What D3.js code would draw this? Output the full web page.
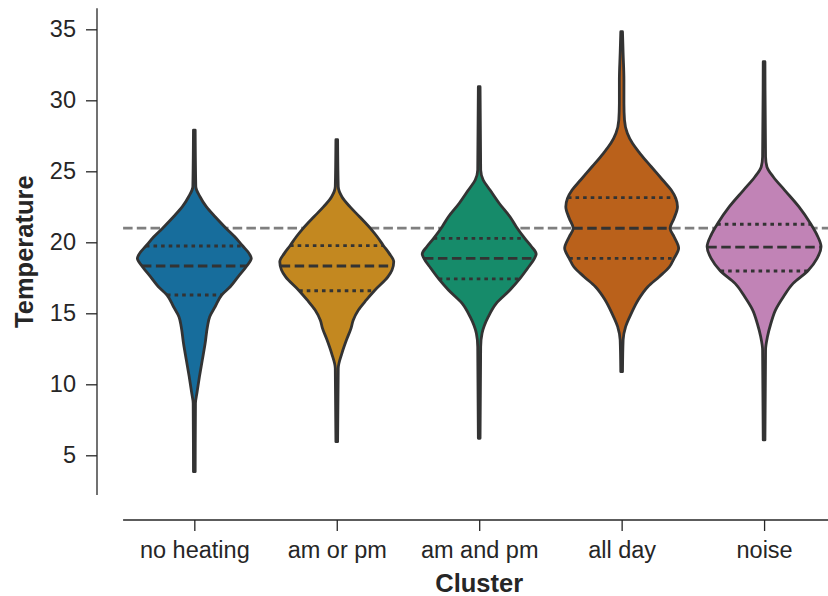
<!DOCTYPE html>
<html>
<head>
<meta charset="utf-8">
<script src="https://cdn.jsdelivr.net/npm/d3@7"></script>
<style>
  html, body { margin: 0; padding: 0; background: #fff; }
  svg { display: block; font-family: "Liberation Sans", Arial, Helvetica, sans-serif; }
</style>
</head>
<body>
<svg id="chart" width="828" height="596"></svg>
<script>
// Clusters along the x axis
const categories = ["no heating", "am or pm", "am and pm", "all day", "noise"];

// Kernel density profiles per cluster: temperature grid and relative density (peak = 1)
const noHeatingTemp = [3.85, 8.66, 9.37, 10.54, 11.71, 12.89, 14.06, 14.76, 15.46, 16.29, 16.87, 17.58, 18.33, 18.87, 19.22, 19.74, 20.39, 20.98, 21.8, 22.51, 23.21, 23.92, 27.9];
const noHeatingDens = [0.015, 0.02, 0.045, 0.09, 0.14, 0.19, 0.23, 0.27, 0.365, 0.48, 0.63, 0.77, 0.92, 1.0, 0.96, 0.85, 0.71, 0.56, 0.365, 0.21, 0.10, 0.026, 0.015];

const amOrPmTemp = [5.96, 11.13, 12.18, 13.12, 13.94, 14.53, 15.23, 15.94, 16.59, 17.58, 18.05, 18.63, 19.22, 19.76, 20.39, 20.98, 21.8, 22.51, 23.21, 23.92, 27.23];
const amOrPmDens = [0.015, 0.026, 0.09, 0.17, 0.25, 0.29, 0.38, 0.52, 0.66, 0.90, 0.97, 1.0, 0.92, 0.82, 0.71, 0.59, 0.40, 0.23, 0.09, 0.026, 0.015];

const amAndPmTemp = [6.2, 12.65, 13.59, 14.76, 15.7, 16.64, 17.42, 18.17, 18.87, 19.18, 19.69, 20.28, 21.1, 21.8, 22.75, 23.68, 24.39, 25.09, 30.96];
const amAndPmDens = [0.015, 0.026, 0.05, 0.16, 0.30, 0.54, 0.71, 0.85, 0.97, 1.0, 0.92, 0.80, 0.65, 0.54, 0.35, 0.19, 0.07, 0.026, 0.015];

const allDayTemp = [10.89, 13.12, 14.06, 15.0, 15.94, 16.87, 17.58, 18.28, 18.87, 19.58, 20.39, 20.99, 21.69, 22.51, 23.1, 23.68, 24.39, 25.32, 26.27, 26.97, 27.68, 28.61, 29.79, 31.43, 33.31, 34.83];
const allDayDens = [0.015, 0.026, 0.07, 0.17, 0.29, 0.46, 0.66, 0.84, 0.92, 1.0, 0.92, 0.85, 0.92, 0.98, 0.95, 0.87, 0.72, 0.52, 0.32, 0.19, 0.10, 0.05, 0.04, 0.04, 0.026, 0.015];

const noiseTemp = [6.08, 12.42, 13.36, 14.3, 15.23, 16.17, 17.11, 18.0, 18.87, 19.69, 20.51, 21.29, 22.51, 23.68, 24.62, 25.32, 26.03, 32.72];
const noiseDens = [0.015, 0.026, 0.06, 0.12, 0.20, 0.34, 0.51, 0.77, 0.93, 1.0, 0.93, 0.82, 0.61, 0.36, 0.16, 0.05, 0.026, 0.015];

// Quartiles per cluster
const q1Values = [16.29, 16.59, 17.42, 18.87, 17.98];
const medianValues = [18.33, 18.33, 18.87, 20.99, 19.66];
const q3Values = [19.74, 19.76, 20.28, 23.15, 21.27];

// Reference temperature
const referenceTemp = 21;

const yTicks = [5, 10, 15, 20, 25, 30, 35];
const colors = ["#176d9c", "#c38820", "#168b6a", "#ba611b", "#c183b6"];

const profiles = [
  [noHeatingTemp, noHeatingDens],
  [amOrPmTemp, amOrPmDens],
  [amAndPmTemp, amAndPmDens],
  [allDayTemp, allDayDens],
  [noiseTemp, noiseDens]
].map(([t, d]) => t.map((v, i) => ({ t: v, d: d[i] })));

const svg = d3.select("#chart");
const ink = "#262626";
const outline = "#333333";

// Axes frame
const plotLeft = 123.1, plotRight = 835.3, plotTop = 8.3, plotBottom = 495;
const yAxisX = 97, xAxisY = 520;

const x = d3.scaleLinear().domain([-0.5, categories.length - 0.5]).range([plotLeft, plotRight]);
const y = d3.scaleLinear().domain([2.204, 36.48]).range([plotBottom, plotTop]);
const halfWidth = 0.4 * (x(1) - x(0));

// Reference line behind the violins
svg.append("line")
  .attr("x1", plotLeft).attr("x2", plotRight)
  .attr("y1", y(referenceTemp)).attr("y2", y(referenceTemp))
  .attr("stroke", "#7f7f7f").attr("stroke-width", 2.8)
  .attr("stroke-dasharray", "9.5,4.2");

// Violins
const g = svg.append("g");
profiles.forEach((prof, i) => {
  const cx = x(i);
  const area = d3.area()
    .y(p => y(p.t))
    .x0(p => cx - p.d * halfWidth)
    .x1(p => cx + p.d * halfWidth)
    .curve(d3.curveMonotoneY);
  g.append("path")
    .datum(prof)
    .attr("d", area)
    .attr("fill", colors[i])
    .attr("stroke", outline)
    .attr("stroke-width", 2.8)
    .attr("stroke-linejoin", "round");

  const widthAt = v => {
    const ts = prof.map(p => p.t);
    const j = Math.max(1, d3.bisectLeft(ts, v));
    const a = prof[j - 1], b = prof[j];
    const f = (v - a.t) / (b.t - a.t);
    return (a.d + f * (b.d - a.d)) * halfWidth;
  };

  const inner = [
    { v: q1Values[i], dash: "3.6,4" },
    { v: medianValues[i], dash: "9.5,4.5" },
    { v: q3Values[i], dash: "3.6,4" }
  ];
  inner.forEach(q => {
    const w = widthAt(q.v);
    g.append("line")
      .attr("x1", cx - w).attr("x2", cx + w)
      .attr("y1", y(q.v)).attr("y2", y(q.v))
      .attr("stroke", outline)
      .attr("stroke-width", 2.8)
      .attr("stroke-dasharray", q.dash);
  });
});

// Y axis
const yAxis = svg.append("g")
  .attr("transform", `translate(${yAxisX},0)`)
  .call(d3.axisLeft(y).tickValues(yTicks).tickSize(11).tickPadding(10).tickSizeOuter(0));
yAxis.select(".domain").attr("d", `M0,${plotTop}V${plotBottom}`);

// X axis
const xAxis = svg.append("g")
  .attr("transform", `translate(0,${xAxisY})`)
  .call(d3.axisBottom(x).tickValues(d3.range(categories.length))
    .tickFormat(i => categories[i]).tickSize(11).tickSizeOuter(0));
xAxis.select(".domain").attr("d", `M${plotLeft},0H${plotRight}`);
xAxis.selectAll(".tick text").attr("y", 37.5).attr("dy", null);

[yAxis, xAxis].forEach(ax => {
  ax.selectAll(".domain, .tick line").attr("stroke", ink).attr("stroke-width", 1.3);
  ax.selectAll(".tick text").attr("fill", ink).style("font-size", "23.5px")
    .style("font-family", "'Liberation Sans', Arial, sans-serif");
});

// Axis titles
svg.append("text")
  .attr("x", x(2)).attr("y", 592)
  .attr("text-anchor", "middle")
  .attr("fill", ink)
  .style("font-size", "25.5px").style("font-weight", "bold")
  .text("Cluster");

svg.append("text")
  .attr("transform", `translate(33,${(plotTop + plotBottom) / 2}) rotate(-90)`)
  .attr("text-anchor", "middle")
  .attr("fill", ink)
  .style("font-size", "25.5px").style("font-weight", "bold")
  .text("Temperature");
</script>
</body>
</html>
